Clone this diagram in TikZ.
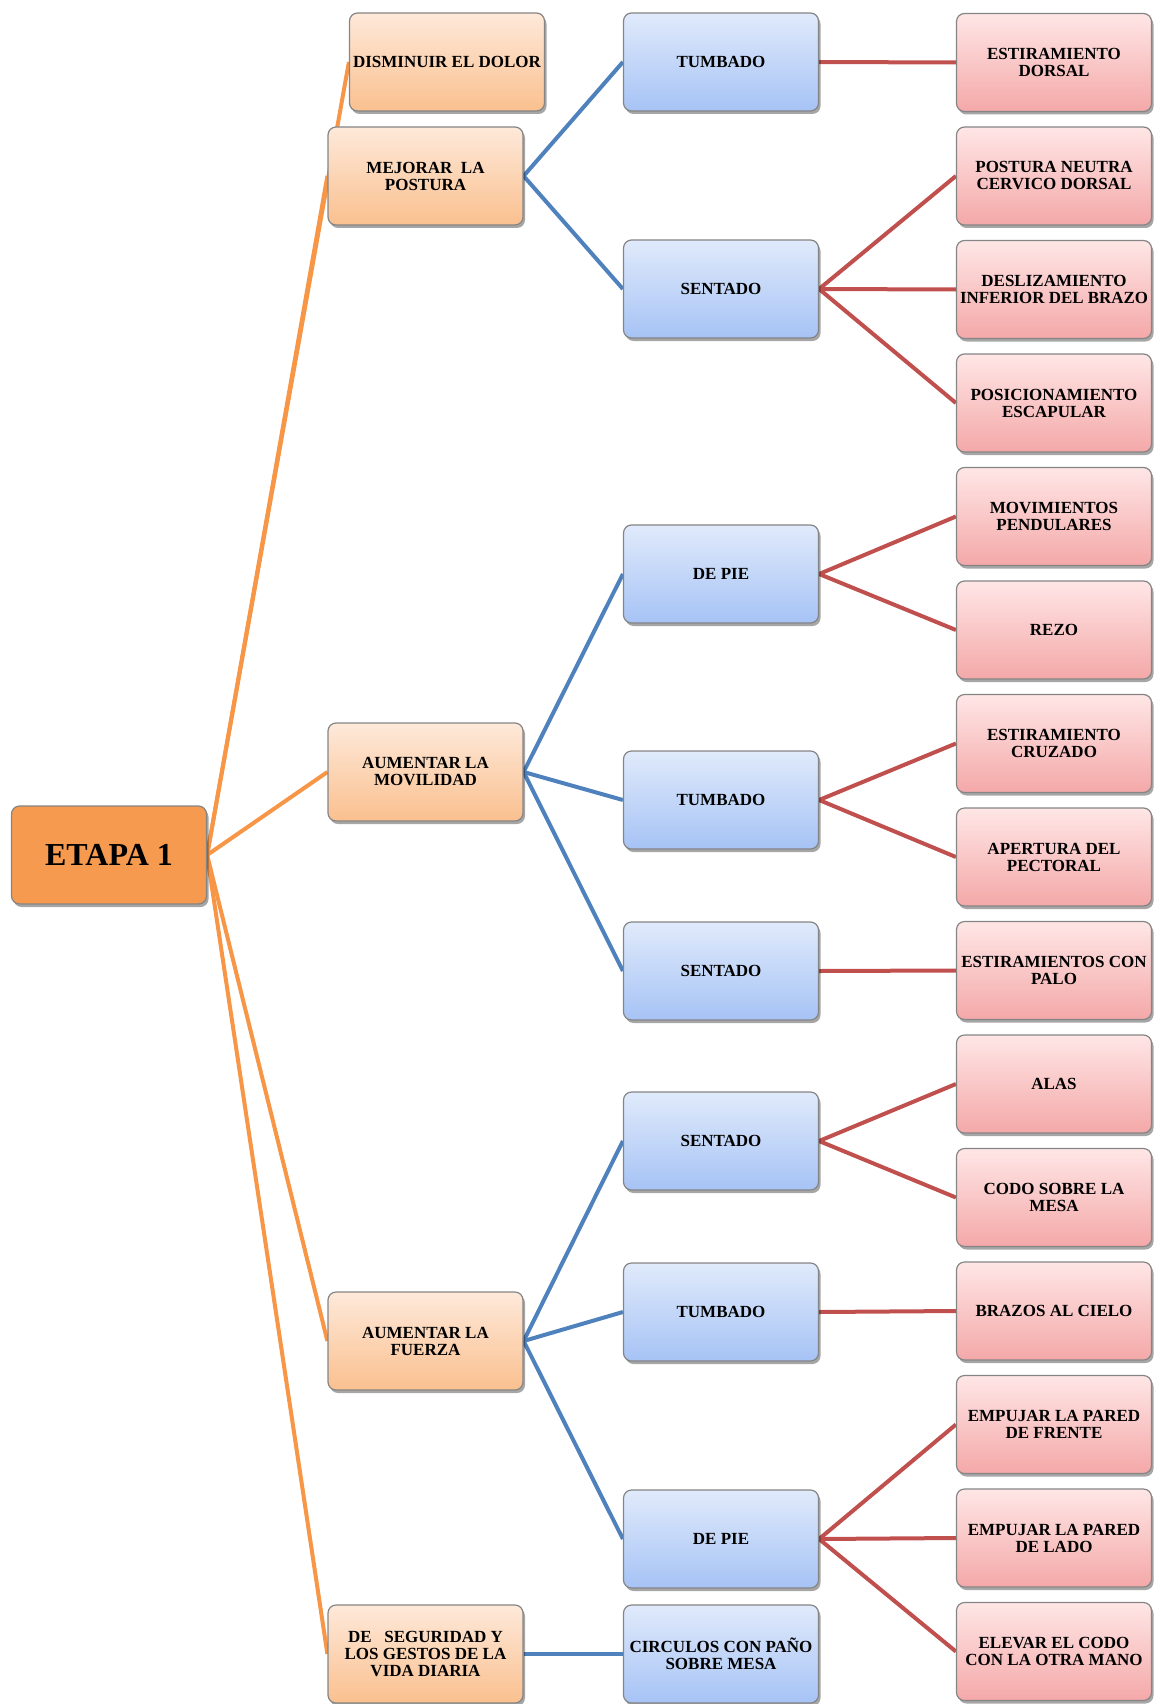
\documentclass[tikz,border=0pt]{standalone}
\usepackage{fontspec}
\setmainfont{Liberation Serif}
\usepackage{graphicx}
\usetikzlibrary{shadows}
\pgfdeclarelayer{background}
\pgfsetlayers{background,main}

\definecolor{rootfill}{HTML}{F59A4E}
\definecolor{goaltop}{HTML}{FEE9DA}
\definecolor{goalbot}{HTML}{FAC08F}
\definecolor{postop}{HTML}{E0EAFB}
\definecolor{posbot}{HTML}{A6C3F5}
\definecolor{extop}{HTML}{FFE6E6}
\definecolor{exbot}{HTML}{F4A8A8}
\definecolor{edge}{HTML}{858585}
\definecolor{lorange}{HTML}{F79646}
\definecolor{lblue}{HTML}{4F81BD}
\definecolor{lred}{HTML}{C0504D}

% squeeze a line horizontally when it is wider than the box interior
\newcommand\fl[1]{\sbox0{#1}\ifdim\wd0>188pt\resizebox{188pt}{\ht0}{#1}\else#1\fi}

\tikzset{
  box/.style={rounded corners=8pt, draw=edge, line width=1.2pt,
    minimum width=195pt, minimum height=98pt, inner sep=2pt, align=center,
    font=\bfseries\fontsize{17}{17}\selectfont,
    drop shadow={shadow xshift=2pt, shadow yshift=-3pt, fill=black, opacity=0.35}},
  rootbox/.style={box, fill=rootfill, font=\bfseries\fontsize{32}{32}\selectfont},
  goalbox/.style={box, top color=goaltop, bottom color=goalbot},
  posbox/.style={box, top color=postop, bottom color=posbot},
  exbox/.style={box, top color=extop, bottom color=exbot},
  olink/.style={draw=lorange, line width=4pt},
  blink/.style={draw=lblue, line width=4pt},
  rlink/.style={draw=lred, line width=4pt},
}

\begin{document}
\begin{tikzpicture}[x=1pt, y=-1pt]
\useasboundingbox (0,0) rectangle (1157,1704);

% root
\node[rootbox] (etapa) at (109,855) {ETAPA 1};

% goals
\node[goalbox] (dolor)   at (447,62)    {\fl{DISMINUIR EL DOLOR}};
\node[goalbox] (postura) at (425.5,176) {MEJORAR\ \ LA\\POSTURA};
\node[goalbox] (movil)   at (425.5,772) {AUMENTAR LA\\MOVILIDAD};
\node[goalbox] (fuerza)  at (425.5,1341) {AUMENTAR LA\\FUERZA};
\node[goalbox] (segur)   at (425.5,1654) {DE\ \ \ SEGURIDAD Y\\LOS GESTOS DE LA\\VIDA DIARIA};

% positions
\node[posbox] (tumA)  at (721,62)   {TUMBADO};
\node[posbox] (senA)  at (721,289)  {SENTADO};
\node[posbox] (pieB)  at (721,574)  {DE PIE};
\node[posbox] (tumB)  at (721,800)  {TUMBADO};
\node[posbox] (senB)  at (721,971)  {SENTADO};
\node[posbox] (senC)  at (721,1141) {SENTADO};
\node[posbox] (tumC)  at (721,1312) {TUMBADO};
\node[posbox] (pieC)  at (721,1539) {DE PIE};
\node[posbox] (circ)  at (721,1654) {\fl{CIRCULOS CON PAÑO}\\SOBRE MESA};

% exercises
\node[exbox] (e1)  at (1054,62.5)   {ESTIRAMIENTO\\DORSAL};
\node[exbox] (e2)  at (1054,176)    {\fl{POSTURA NEUTRA}\\\fl{CERVICO DORSAL}};
\node[exbox] (e3)  at (1054,289.5)  {\fl{DESLIZAMIENTO}\\\fl{INFERIOR DEL BRAZO}};
\node[exbox] (e4)  at (1054,403)    {\fl{POSICIONAMIENTO}\\ESCAPULAR};
\node[exbox] (e5)  at (1054,516.5)  {MOVIMIENTOS\\PENDULARES};
\node[exbox] (e6)  at (1054,630)    {REZO};
\node[exbox] (e7)  at (1054,743.5)  {ESTIRAMIENTO\\CRUZADO};
\node[exbox] (e8)  at (1054,857)    {APERTURA DEL\\PECTORAL};
\node[exbox] (e9)  at (1054,970.5)  {\fl{ESTIRAMIENTOS CON}\\PALO};
\node[exbox] (e10) at (1054,1084)   {ALAS};
\node[exbox] (e11) at (1054,1197.5) {CODO SOBRE LA\\MESA};
\node[exbox] (e12) at (1054,1311)   {\fl{BRAZOS AL CIELO}};
\node[exbox] (e13) at (1054,1424.5) {\fl{EMPUJAR LA PARED}\\DE FRENTE};
\node[exbox] (e14) at (1054,1538)   {\fl{EMPUJAR LA PARED}\\DE LADO};
\node[exbox] (e15) at (1054,1651.5) {\fl{ELEVAR EL CODO}\\\fl{CON LA OTRA MANO}};

\begin{pgfonlayer}{background}
  % root to goals
  \foreach \g in {dolor,postura,movil,fuerza,segur}
    \draw[olink] (etapa.east) -- (\g.west);
  % goals to positions
  \foreach \a/\b in {postura/tumA, postura/senA, movil/pieB, movil/tumB, movil/senB,
                     fuerza/senC, fuerza/tumC, fuerza/pieC, segur/circ}
    \draw[blink] (\a.east) -- (\b.west);
  % positions to exercises
  \foreach \a/\b in {tumA/e1, senA/e2, senA/e3, senA/e4, pieB/e5, pieB/e6,
                     tumB/e7, tumB/e8, senB/e9, senC/e10, senC/e11, tumC/e12,
                     pieC/e13, pieC/e14, pieC/e15}
    \draw[rlink] (\a.east) -- (\b.west);
\end{pgfonlayer}
\end{tikzpicture}
\end{document}
